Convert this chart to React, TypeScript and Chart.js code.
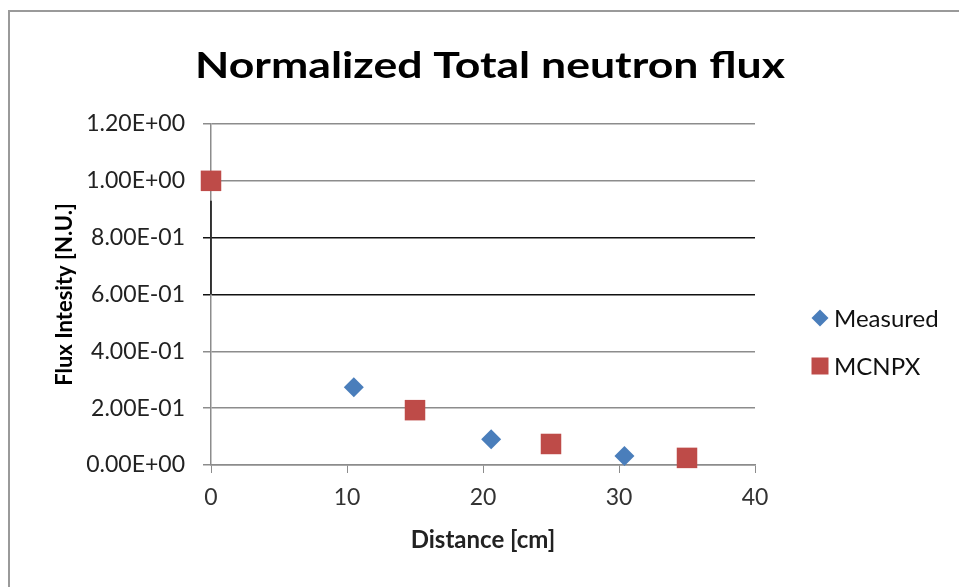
import React, { useEffect, useRef } from "react";
import { Chart, registerables } from "chart.js";

Chart.register(...registerables);

const measuredX = [10.5, 20.6, 30.4];
const measuredY = [0.274, 0.091, 0.032];
const mcnpxX = [0, 15, 25, 35];
const mcnpxY = [1.0, 0.193, 0.074, 0.025];
const yTickLabels = ["0.00E+00", "2.00E-01", "4.00E-01", "6.00E-01", "8.00E-01", "1.00E+00", "1.20E+00"];
const xTickValues = [0, 10, 20, 30, 40];

const TITLE = "Normalized Total neutron flux";
const X_TITLE = "Distance [cm]";
const Y_TITLE = "Flux Intesity [N.U.]";
const FONT = "Lato, 'Open Sans', sans-serif";
const BLUE = "#4A7EBB";
const RED = "#BE4B48";

const decorPlugin = {
  id: "decor",
  beforeDatasetsDraw(chart: any) {
    const ctx = chart.ctx;
    const area = chart.chartArea;
    const ys = chart.scales.y;
    ctx.save();
    ctx.strokeStyle = "#111";
    ctx.lineWidth = 1.5;
    ctx.beginPath();
    ctx.moveTo(area.left, ys.getPixelForValue(0.93));
    ctx.lineTo(area.left, ys.getPixelForValue(0.6));
    ctx.stroke();
    ctx.restore();
  },
  afterDraw(chart: any) {
    const ctx = chart.ctx;
    const area = chart.chartArea;
    ctx.save();
    // frame
    ctx.strokeStyle = "#9a9a9a";
    ctx.lineWidth = 2;
    ctx.beginPath();
    ctx.moveTo(9, 587);
    ctx.lineTo(9, 11);
    ctx.lineTo(959, 11);
    ctx.stroke();
    // title, stretched to the reference width
    ctx.font = "bold 36px " + FONT;
    ctx.fillStyle = "#000";
    ctx.textBaseline = "middle";
    ctx.textAlign = "center";
    const w = ctx.measureText(TITLE).width;
    const sx = 590 / w;
    ctx.save();
    ctx.translate(490, 66);
    ctx.scale(sx, 1);
    ctx.fillText(TITLE, 0, 0);
    ctx.restore();
    // legend
    ctx.textAlign = "left";
    const lx = area.right + 65;
    ctx.font = "24px " + FONT;
    chart.data.datasets.forEach((d: any, i: number) => {
      const y = 318 + i * 48;
      ctx.fillStyle = d.backgroundColor;
      ctx.beginPath();
      if (d.pointStyle === "rectRot") {
        const r = 8.5;
        ctx.moveTo(lx, y - r);
        ctx.lineTo(lx + r, y);
        ctx.lineTo(lx, y + r);
        ctx.lineTo(lx - r, y);
        ctx.closePath();
      } else {
        ctx.rect(lx - 8.5, y - 8.5, 17, 17);
      }
      ctx.fill();
      ctx.fillStyle = "#111";
      ctx.fillText(d.label, lx + 14, y + 1);
    });
    ctx.restore();
  },
};

export default function App() {
  const ref = useRef<HTMLCanvasElement>(null);
  useEffect(() => {
    if (!ref.current) return;
    const chart = new Chart(ref.current, {
      type: "scatter",
      data: {
        datasets: [
          {
            label: "Measured",
            data: measuredX.map((x, i) => ({ x, y: measuredY[i] })),
            backgroundColor: BLUE,
            borderColor: BLUE,
            pointStyle: "rectRot",
            pointRadius: 10,
            borderWidth: 0,
            clip: false,
          },
          {
            label: "MCNPX",
            data: mcnpxX.map((x, i) => ({ x, y: mcnpxY[i] })),
            backgroundColor: RED,
            borderColor: RED,
            pointStyle: "rect",
            pointRadius: 14.5,
            borderWidth: 0,
            clip: false,
          },
        ],
      },
      plugins: [decorPlugin],
      options: {
        responsive: false,
        animation: false,
        layout: { padding: { left: 45, right: 204, top: 124, bottom: 0 } },
        plugins: {
          legend: { display: false },
          tooltip: { enabled: false },
          title: { display: false },
        },
        scales: {
          x: {
            type: "linear",
            min: 0,
            max: 40,
            afterBuildTicks: (s: any) => {
              s.ticks = xTickValues.map((v) => ({ value: v }));
            },
            afterFit: (s: any) => {
              s.height = 122;
            },
            ticks: {
              color: "#333",
              font: { family: FONT, size: 23 },
              padding: 11,
              maxRotation: 0,
            },
            grid: {
              drawOnChartArea: false,
              color: "#8c8c8c",
              tickLength: 8,
            },
            border: { color: "#8c8c8c", width: 1.5 },
            title: {
              display: true,
              text: X_TITLE,
              color: "#222",
              font: { family: FONT, size: 24, weight: "bold" },
              padding: { top: 0, bottom: 32 },
            },
          },
          y: {
            type: "linear",
            min: 0,
            max: 1.2,
            ticks: {
              stepSize: 0.2,
              color: "#222",
              font: { family: FONT, size: 23 },
              padding: 18,
              callback: (_v: any, i: number) => yTickLabels[i],
            },
            afterFit: (s: any) => {
              s.width = 166;
            },
            grid: {
              color: (c: any) => {
                const v = c.tick ? Math.round(c.tick.value * 10) / 10 : 0;
                return v === 0.6 || v === 0.8 ? "#111" : "#8c8c8c";
              },
              lineWidth: 1.5,
              tickLength: 8,
            },
            border: { color: "#8c8c8c", width: 1.5 },
            title: {
              display: true,
              text: Y_TITLE,
              color: "#000",
              font: { family: FONT, size: 22, weight: "bold" },
              padding: { top: 7, bottom: 0 },
            },
          },
        },
      },
    });
    return () => chart.destroy();
  }, []);
  return (
    <div style={{ position: "absolute", left: 0, top: 0, width: 959, height: 587, background: "#fff" }}>
      <canvas ref={ref} width={959} height={587} />
    </div>
  );
}
